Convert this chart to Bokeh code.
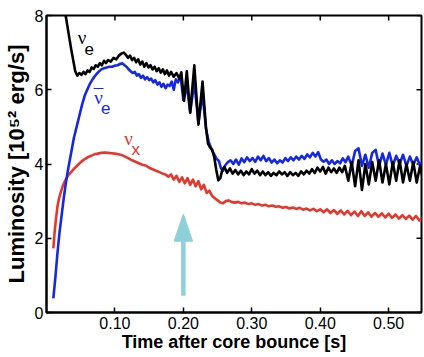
import math
from bokeh.plotting import figure
from bokeh.models import FixedTicker, Range1d, Label
from bokeh.embed import file_html
from bokeh.resources import INLINE

# ---------------- data ----------------
t_nue = [0.020, 0.028, 0.036, 0.042, 0.045, 0.048, 0.051, 0.054, 0.057, 0.060, 0.063, 0.066,
         0.069, 0.072, 0.075, 0.078, 0.081, 0.084, 0.087, 0.090, 0.094, 0.098, 0.102, 0.106,
         0.110, 0.113, 0.116, 0.119, 0.122, 0.125, 0.128, 0.131, 0.134, 0.137, 0.140, 0.143,
         0.146, 0.149, 0.152, 0.155, 0.158, 0.161, 0.164, 0.167, 0.170, 0.173, 0.176, 0.179,
         0.182, 0.186, 0.190, 0.194, 0.197, 0.201, 0.205, 0.210, 0.216, 0.222, 0.228, 0.233,
         0.236, 0.239, 0.242, 0.245, 0.248, 0.251, 0.254, 0.257, 0.260, 0.264, 0.268, 0.272,
         0.276, 0.280, 0.284, 0.288, 0.292, 0.296, 0.300, 0.304, 0.308, 0.312, 0.316, 0.320,
         0.324, 0.328, 0.332, 0.336, 0.340, 0.344, 0.348, 0.352, 0.356, 0.360, 0.364, 0.368,
         0.372, 0.376, 0.380, 0.384, 0.388, 0.392, 0.396, 0.400, 0.404, 0.408, 0.412, 0.416,
         0.420, 0.424, 0.428, 0.432, 0.436, 0.441, 0.446, 0.451, 0.456, 0.461, 0.466, 0.471,
         0.476, 0.481, 0.486, 0.491, 0.496, 0.501, 0.506, 0.511, 0.516, 0.521, 0.526, 0.531,
         0.536, 0.541, 0.546, 0.550]
L_nue = [9.60, 8.00, 7.10, 6.50, 6.38, 6.45, 6.40, 6.48, 6.42, 6.52, 6.48, 6.60,
         6.56, 6.66, 6.62, 6.72, 6.66, 6.78, 6.72, 6.80, 6.76, 6.86, 6.82, 6.92,
         6.98, 7.00, 6.94, 6.86, 6.92, 6.80, 6.86, 6.74, 6.82, 6.68, 6.76, 6.62,
         6.72, 6.60, 6.66, 6.55, 6.62, 6.50, 6.58, 6.46, 6.55, 6.42, 6.52, 6.38,
         6.48, 6.35, 6.45, 6.30, 6.47, 5.70, 6.50, 5.38, 6.66, 5.06, 6.22, 5.00,
         4.55, 4.45, 4.38, 4.20, 3.85, 3.56, 3.62, 3.85, 3.92, 3.76, 3.88, 3.74,
         3.84, 3.72, 3.82, 3.70, 3.80, 3.72, 3.86, 3.74, 3.82, 3.70, 3.80, 3.70,
         3.78, 3.68, 3.76, 3.70, 3.80, 3.72, 3.78, 3.68, 3.78, 3.70, 3.76, 3.68,
         3.80, 3.72, 3.82, 3.74, 3.86, 3.76, 3.90, 3.80, 3.92, 3.74, 3.90, 3.78,
         3.88, 3.76, 3.90, 3.78, 3.95, 3.55, 4.05, 3.40, 4.10, 3.30, 4.00, 3.45,
         4.05, 3.55, 4.10, 3.50, 4.00, 3.45, 4.05, 3.55, 4.10, 3.50, 4.00, 3.55,
         4.05, 3.50, 3.95, 3.60]

t_anue = [0.010, 0.013, 0.016, 0.019, 0.022, 0.025, 0.028, 0.031, 0.034, 0.037, 0.040, 0.044,
          0.048, 0.052, 0.056, 0.060, 0.064, 0.068, 0.072, 0.076, 0.080, 0.084, 0.088, 0.092,
          0.096, 0.100, 0.104, 0.108, 0.111, 0.114, 0.117, 0.120, 0.123, 0.126, 0.129, 0.132,
          0.135, 0.138, 0.141, 0.144, 0.147, 0.150, 0.153, 0.156, 0.159, 0.162, 0.165, 0.168,
          0.171, 0.174, 0.177, 0.180, 0.183, 0.186, 0.189, 0.192, 0.196, 0.200, 0.205, 0.210,
          0.216, 0.222, 0.228, 0.233, 0.237, 0.240, 0.244, 0.248, 0.252, 0.255, 0.258, 0.261,
          0.265, 0.269, 0.273, 0.277, 0.281, 0.285, 0.289, 0.293, 0.297, 0.301, 0.305, 0.309,
          0.313, 0.317, 0.321, 0.325, 0.329, 0.333, 0.337, 0.341, 0.345, 0.349, 0.353, 0.357,
          0.361, 0.365, 0.369, 0.373, 0.377, 0.381, 0.385, 0.389, 0.393, 0.397, 0.401, 0.405,
          0.409, 0.413, 0.417, 0.421, 0.425, 0.429, 0.433, 0.437, 0.441, 0.446, 0.451, 0.456,
          0.461, 0.466, 0.471, 0.476, 0.481, 0.486, 0.491, 0.496, 0.501, 0.506, 0.511, 0.516,
          0.521, 0.526, 0.531, 0.536, 0.541, 0.546, 0.550]
L_anue = [0.38, 0.95, 1.60, 2.15, 2.60, 3.05, 3.45, 3.80, 4.10, 4.40, 4.70, 5.00,
          5.30, 5.60, 5.85, 6.02, 6.18, 6.30, 6.40, 6.48, 6.55, 6.58, 6.60, 6.62,
          6.62, 6.65, 6.66, 6.70, 6.71, 6.66, 6.62, 6.55, 6.50, 6.45, 6.48, 6.38,
          6.42, 6.32, 6.38, 6.28, 6.34, 6.26, 6.30, 6.20, 6.26, 6.14, 6.20, 6.08,
          6.16, 6.04, 6.14, 6.10, 6.22, 6.00, 6.28, 6.20, 6.35, 5.72, 6.10, 5.40,
          6.20, 5.10, 5.90, 4.95, 4.60, 4.45, 4.30, 4.15, 4.08, 3.88, 3.82, 3.96,
          4.05, 4.10, 4.00, 4.12, 3.98, 4.15, 4.05, 4.18, 4.08, 4.16, 4.06, 4.20,
          4.10, 4.22, 4.08, 4.16, 4.04, 4.12, 4.02, 4.10, 4.04, 4.16, 4.08, 4.18,
          4.10, 4.20, 4.12, 4.22, 4.14, 4.26, 4.18, 4.30, 4.20, 4.32, 4.12, 4.06,
          4.12, 4.00, 4.10, 4.00, 4.08, 4.02, 4.15, 4.05, 4.20, 3.95, 4.35, 4.42,
          3.95, 4.25, 3.90, 4.30, 4.38, 3.95, 4.28, 3.98, 4.30, 3.95, 4.22, 4.00,
          4.25, 3.95, 4.20, 3.98, 4.18, 3.95, 4.10]

t_nux = [0.010, 0.012, 0.014, 0.016, 0.018, 0.021, 0.024, 0.028, 0.032, 0.036, 0.040, 0.045,
         0.050, 0.055, 0.060, 0.065, 0.070, 0.075, 0.080, 0.085, 0.090, 0.095, 0.100, 0.105,
         0.110, 0.115, 0.120, 0.125, 0.130, 0.135, 0.140, 0.145, 0.150, 0.155, 0.160, 0.165,
         0.170, 0.174, 0.178, 0.182, 0.186, 0.190, 0.194, 0.198, 0.202, 0.206, 0.210, 0.214,
         0.218, 0.222, 0.226, 0.230, 0.234, 0.238, 0.242, 0.246, 0.250, 0.254, 0.258, 0.262,
         0.266, 0.270, 0.275, 0.280, 0.285, 0.290, 0.295, 0.300, 0.305, 0.310, 0.315, 0.320,
         0.325, 0.330, 0.335, 0.340, 0.345, 0.350, 0.355, 0.360, 0.365, 0.370, 0.375, 0.380,
         0.385, 0.390, 0.395, 0.400, 0.405, 0.410, 0.415, 0.420, 0.425, 0.430, 0.435, 0.440,
         0.445, 0.450, 0.455, 0.460, 0.465, 0.470, 0.475, 0.480, 0.485, 0.490, 0.495, 0.500,
         0.505, 0.510, 0.515, 0.520, 0.525, 0.530, 0.535, 0.540, 0.545, 0.550]
L_nux = [1.73, 2.20, 2.55, 2.85, 3.05, 3.25, 3.42, 3.58, 3.70, 3.78, 3.87, 3.96,
         4.05, 4.12, 4.18, 4.22, 4.26, 4.28, 4.30, 4.31, 4.30, 4.29, 4.28, 4.26,
         4.24, 4.20, 4.15, 4.10, 4.06, 4.02, 3.98, 3.96, 3.90, 3.86, 3.82, 3.78,
         3.74, 3.72, 3.66, 3.72, 3.58, 3.68, 3.52, 3.64, 3.48, 3.62, 3.44, 3.58,
         3.40, 3.54, 3.32, 3.44, 3.22, 3.28, 3.14, 3.08, 3.02, 2.96, 2.94, 3.00,
         3.02, 2.98, 2.96, 2.98, 2.94, 2.96, 2.92, 2.94, 2.90, 2.92, 2.88, 2.90,
         2.86, 2.88, 2.85, 2.86, 2.82, 2.84, 2.80, 2.83, 2.79, 2.82, 2.77, 2.80,
         2.75, 2.79, 2.73, 2.78, 2.70, 2.78, 2.68, 2.76, 2.66, 2.75, 2.64, 2.74,
         2.62, 2.72, 2.60, 2.73, 2.60, 2.70, 2.58, 2.68, 2.58, 2.67, 2.56, 2.66,
         2.55, 2.64, 2.53, 2.62, 2.52, 2.61, 2.50, 2.60, 2.48, 2.56]

x_ticks = [0.10, 0.20, 0.30, 0.40, 0.50]
x_tick_labels = ["0.10", "0.20", "0.30", "0.40", "0.50"]
y_ticks = [0, 2, 4, 6, 8]
y_tick_labels = ["0", "2", "4", "6", "8"]
x_lo, x_hi = 0.0, 0.548
y_lo, y_hi = 0.0, 8.0

arrow_t = 0.20
arrow_tail = 0.45
arrow_head_base = 1.92
arrow_tip = 2.65

# ---------------- figure ----------------
FONT = "Liberation Sans"
p = figure(width=424, height=357, output_backend="svg", toolbar_location=None,
           x_range=Range1d(x_lo, x_hi), y_range=Range1d(y_lo, y_hi),
           min_border_left=45, min_border_right=3, min_border_top=15, min_border_bottom=45)
p.grid.visible = False
p.outline_line_color = "black"
p.outline_line_width = 2
p.background_fill_color = "white"
p.border_fill_color = "white"

for ax, ticks, labels in ((p.xaxis[0], x_ticks, x_tick_labels), (p.yaxis[0], y_ticks, y_tick_labels)):
    ax.ticker = FixedTicker(ticks=ticks)
    ax.major_label_overrides = {tk: lb for tk, lb in zip(ticks, labels)}
    ax.major_tick_in = 5
    ax.major_tick_out = 0
    ax.minor_tick_in = 0
    ax.minor_tick_out = 0
    ax.major_tick_line_width = 1.5
    ax.axis_line_width = 2
    ax.major_label_text_font = FONT
    ax.major_label_text_font_size = "16px"
    ax.major_label_text_color = "black"
    ax.axis_label_text_font = FONT
    ax.axis_label_text_font_style = "bold"
    ax.axis_label_text_color = "black"

p.xaxis.axis_label = "Time after core bounce [s]"
p.xaxis.axis_label_text_font_size = "18px"
p.xaxis.major_label_standoff = 4
p.xaxis.axis_label_standoff = 0
p.yaxis.axis_label = "Luminosity [10⁵² erg/s]"
p.yaxis.axis_label_text_font_size = "22px"
p.yaxis.major_label_standoff = 3
p.yaxis.axis_label_standoff = 3

# inward ticks on top and right edges of the box
p.ray(x=x_ticks, y=[y_hi] * len(x_ticks), length=5, length_units="screen",
      angle=-math.pi / 2, line_color="black", line_width=1.5)
p.ray(x=[x_hi] * len(y_ticks), y=y_ticks, length=5, length_units="screen",
      angle=math.pi, line_color="black", line_width=1.5)

# curves
p.line(t_nux, L_nux, line_color="#e5372c", line_width=2.6, line_join="round")
p.line(t_anue, L_anue, line_color="#1428e6", line_width=2.6, line_join="round")
p.line(t_nue, L_nue, line_color="black", line_width=2.6, line_join="round")

# arrow
ARROW_COLOR = "#8fcfd8"
p.segment(x0=[arrow_t], y0=[arrow_tail], x1=[arrow_t], y1=[arrow_head_base],
          line_color=ARROW_COLOR, line_width=4.5)
hw = 0.0135
p.patch([arrow_t - hw, arrow_t, arrow_t + hw], [arrow_head_base, arrow_tip, arrow_head_base],
        fill_color=ARROW_COLOR, line_color=ARROW_COLOR)

# curve labels
def nu_label(x, y, sub, color, bar=False):
    p.add_layout(Label(x=x, y=y, text="ν", text_color=color, text_font="Liberation Serif",
                       text_font_size="19px", text_align="center", text_baseline="middle"))
    if bar:
        p.add_layout(Label(x=x, y=y + 0.05, text="¯", text_color=color,
                           text_font="Liberation Serif", text_font_size="19px",
                           text_align="center", text_baseline="middle"))
    p.add_layout(Label(x=x + 0.0105, y=y - 0.29, text=sub, text_color=color, text_font=FONT,
                       text_font_size="17px", text_align="center", text_baseline="middle"))

nu_label(0.052, 7.40, "e", "black")
nu_label(0.076, 5.80, "e", "#1428e6", bar=True)
nu_label(0.120, 4.68, "x", "#e5372c")

open("out.html", "w").write(file_html(p, INLINE))
